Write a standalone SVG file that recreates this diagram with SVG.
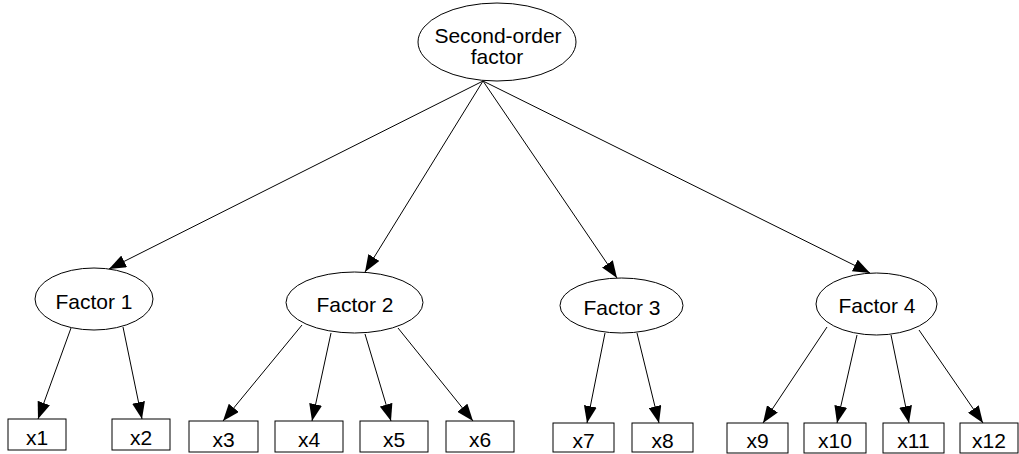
<svg xmlns="http://www.w3.org/2000/svg" width="1019" height="454" viewBox="0 0 1019 454">
  <style>
    .n { fill: #fff; stroke: #000; stroke-width: 1; }
    .t { font-family: "Liberation Sans", Arial, sans-serif; font-size: 21px; fill: #000; text-anchor: middle; }
    .e { stroke: #000; stroke-width: 1; fill: none; marker-end: url(#ah); }
  </style>
  <defs>
    <!-- filled triangular arrowhead, tip on the line end -->
    <marker id="ah" viewBox="0 0 17 13" refX="17" refY="6.5" markerWidth="17" markerHeight="13" markerUnits="userSpaceOnUse" orient="auto">
      <path d="M0,0 L17,6.5 L0,13 Z" fill="#000"/>
    </marker>
  </defs>

  <g id="connectors">
    <line class="e" x1="483" y1="81" x2="109" y2="269"/>
    <line class="e" x1="483" y1="81" x2="365" y2="272"/>
    <line class="e" x1="483" y1="81" x2="617" y2="278"/>
    <line class="e" x1="483" y1="81" x2="870" y2="273"/>
    <line class="e" x1="71" y1="328" x2="38" y2="419"/>
    <line class="e" x1="123" y1="327" x2="142" y2="419"/>
    <line class="e" x1="302" y1="325" x2="223" y2="421"/>
    <line class="e" x1="331" y1="333" x2="312" y2="421"/>
    <line class="e" x1="365" y1="334" x2="391" y2="421"/>
    <line class="e" x1="398" y1="328" x2="473" y2="421"/>
    <line class="e" x1="605" y1="333" x2="587" y2="423"/>
    <line class="e" x1="637" y1="333" x2="659" y2="423"/>
    <line class="e" x1="827" y1="327" x2="763" y2="423"/>
    <line class="e" x1="857" y1="335" x2="837" y2="423"/>
    <line class="e" x1="891" y1="335" x2="909" y2="423"/>
    <line class="e" x1="919" y1="330" x2="983" y2="423"/>
  </g>

  <g id="second-order">
    <ellipse class="n" cx="497" cy="42" rx="79" ry="39"/>
    <text class="t" x="498" y="43">Second-order</text>
    <text class="t" x="497" y="64">factor</text>
  </g>
  <g id="factor1">
    <ellipse class="n" cx="94" cy="299" rx="59" ry="31"/>
    <text class="t" x="94" y="309">Factor 1</text>
  </g>
  <g id="factor2">
    <ellipse class="n" cx="354.5" cy="302.5" rx="68.5" ry="30.5"/>
    <text class="t" x="355" y="312">Factor 2</text>
  </g>
  <g id="factor3">
    <ellipse class="n" cx="621.5" cy="305.5" rx="61.5" ry="27.5"/>
    <text class="t" x="622" y="315">Factor 3</text>
  </g>
  <g id="factor4">
    <ellipse class="n" cx="876.5" cy="304" rx="60.5" ry="31"/>
    <text class="t" x="877" y="313">Factor 4</text>
  </g>

  <g id="x1"><rect class="n" x="8" y="419" width="58" height="31"/><text class="t" x="37" y="445">x1</text></g>
  <g id="x2"><rect class="n" x="112" y="419" width="58" height="31"/><text class="t" x="141" y="445">x2</text></g>
  <g id="x3"><rect class="n" x="189" y="421" width="69" height="31"/><text class="t" x="223.5" y="447">x3</text></g>
  <g id="x4"><rect class="n" x="275" y="421" width="68" height="31"/><text class="t" x="309" y="447">x4</text></g>
  <g id="x5"><rect class="n" x="360" y="421" width="68" height="31"/><text class="t" x="394" y="447">x5</text></g>
  <g id="x6"><rect class="n" x="446" y="421" width="68" height="31"/><text class="t" x="480" y="447">x6</text></g>
  <g id="x7"><rect class="n" x="553" y="423" width="61" height="29"/><text class="t" x="583.5" y="448">x7</text></g>
  <g id="x8"><rect class="n" x="632" y="423" width="61" height="29"/><text class="t" x="662.5" y="448">x8</text></g>
  <g id="x9"><rect class="n" x="727" y="423" width="61" height="30"/><text class="t" x="757.5" y="448">x9</text></g>
  <g id="x10"><rect class="n" x="804" y="423" width="62" height="30"/><text class="t" x="835" y="448">x10</text></g>
  <g id="x11"><rect class="n" x="883" y="423" width="61" height="30"/><text class="t" x="913.5" y="448">x11</text></g>
  <g id="x12"><rect class="n" x="960" y="423" width="58" height="30"/><text class="t" x="989" y="448">x12</text></g>
</svg>
